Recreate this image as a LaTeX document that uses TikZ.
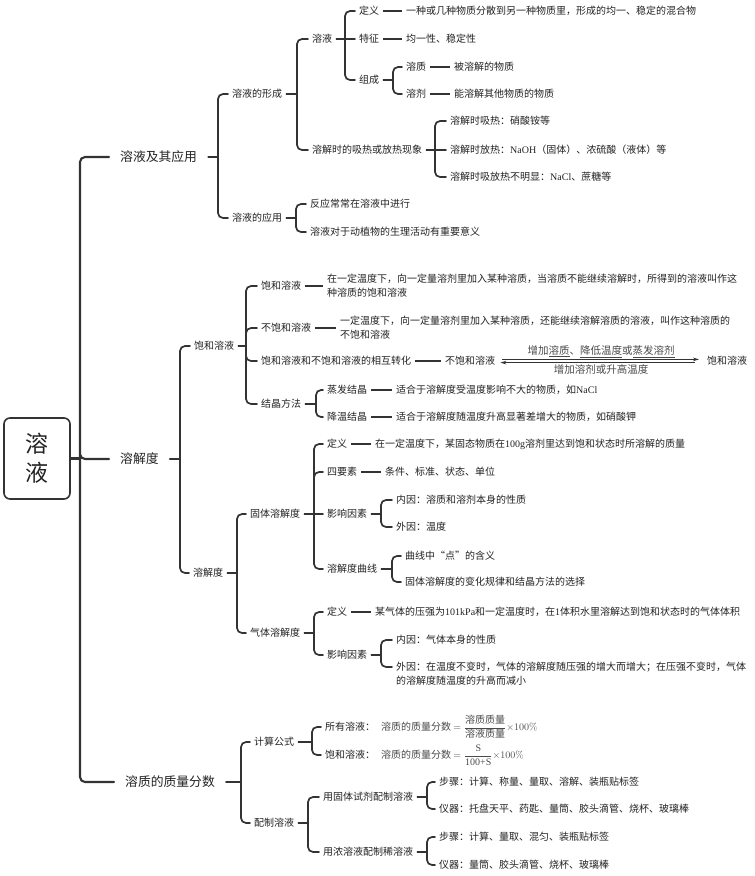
\documentclass[tikz,border=0pt]{standalone}
\usepackage{fontspec}
\usepackage{amsmath}
\usepackage{xcolor}
\usepackage{tikz}
\usetikzlibrary{arrows.meta}
\newfontfamily\cjk{Noto Sans CJK SC}
\newfontfamily\lat{Liberation Serif}
\definecolor{paper}{HTML}{FFFFFF}
\definecolor{ink}{HTML}{222222}
\definecolor{wire}{HTML}{333333}
\definecolor{soft}{HTML}{4A4A4A}
\tikzset{
  ln/.style={draw=wire, line width=1.7pt, rounded corners=5pt, line cap=round},
  trunk/.style={ln, line width=2.1pt},
  tie/.style={draw=wire, line width=1.5pt},
  arr/.style={draw=wire, line width=0.9pt, -{Stealth[length=6pt,width=3.6pt]}, shorten >=4pt, shorten <=3pt},
  arrb/.style={draw=wire, line width=0.9pt, {Stealth[length=6pt,width=3.6pt]}-, shorten >=8pt, shorten <=1pt},
  lab/.style={anchor=west, inner xsep=4pt, inner ysep=1pt, text=ink, font=\cjk\fontsize{10}{14}\selectfont},
  alab/.style={text=soft, inner sep=1.5pt, font=\cjk\fontsize{10.5}{12}\selectfont},
  top/.style={anchor=west, inner xsep=11pt, inner ysep=1pt, text=ink, font=\cjk\fontsize{12.8}{15}\selectfont},
  rootbox/.style={draw=wire, line width=1.6pt, rounded corners=6pt, minimum width=66pt, minimum height=81pt,
    align=center, text=ink, font=\cjk\fontsize{23}{29}\selectfont},
}

\begin{document}
\begin{tikzpicture}[x=1pt,y=-1pt]
  \useasboundingbox (0,0) rectangle (755,876);

  \node[rootbox] (root) at (37,458.5) {溶\\液};
  \node[top] (A) at (109,157) {溶液及其应用};
  \node[top] (B) at (109,459) {溶解度};
  \node[top] (C) at (114,782) {溶质的质量分数};
  \coordinate (j0) at (80,458.5);
  \draw[trunk] (root.east) -- (j0);
  \draw[trunk] (j0) |- (A.west) (j0) |- (B.west) (j0) |- (C.west);

  % 溶液及其应用
  \coordinate (jA) at (218,157);
  \node[lab] (A1) at (228,94) {溶液的形成};
  \node[lab] (A2) at (228,218) {溶液的应用};
  \draw[ln] (A.east) -- (jA);
  \draw[ln] (jA) |- (A1.west) (jA) |- (A2.west);

  \coordinate (jA1) at (297,94);
  \node[lab] (A11) at (308,39) {溶液};
  \node[lab] (A12) at (308,150) {溶解时的吸热或放热现象};
  \draw[ln] (A1.east) -- (jA1);
  \draw[ln] (jA1) |- (A11.west) (jA1) |- (A12.west);

  \coordinate (jA11) at (345,39);
  \node[lab] (A111) at (355,11) {定义};
  \node[lab] (A112) at (355,39) {特征};
  \node[lab] (A113) at (355,80) {组成};
  \draw[ln] (A11.east) -- (jA11);
  \draw[ln] (jA11) |- (A111.west) (jA11) -- (A112.west) (jA11) |- (A113.west);
  \node[lab] (d111) at (402,11) {一种或几种物质分散到另一种物质里，形成的均一、稳定的混合物};
  \node[lab] (d112) at (402,39) {均一性、稳定性};
  \draw[tie] (A111.east) -- (d111.west);
  \draw[tie] (A112.east) -- (d112.west);

  \coordinate (jA113) at (393,80);
  \node[lab] (A1131) at (402,67) {溶质};
  \node[lab] (A1132) at (402,94) {溶剂};
  \draw[ln] (A113.east) -- (jA113);
  \draw[ln] (jA113) |- (A1131.west) (jA113) |- (A1132.west);
  \node[lab] (d1131) at (450,67) {被溶解的物质};
  \node[lab] (d1132) at (450,94) {能溶解其他物质的物质};
  \draw[tie] (A1131.east) -- (d1131.west);
  \draw[tie] (A1132.east) -- (d1132.west);

  \coordinate (jA12) at (435,150);
  \node[lab] (A121) at (446,121) {溶解时吸热：硝酸铵等};
  \node[lab] (A122) at (446,150) {溶解时放热：{\lat NaOH}（固体）、浓硫酸（液体）等};
  \node[lab] (A123) at (446,177) {溶解时吸放热不明显：{\lat NaCl}、蔗糖等};
  \draw[ln] (A12.east) -- (jA12);
  \draw[ln] (jA12) |- (A121.west) (jA12) -- (A122.west) (jA12) |- (A123.west);

  \coordinate (jA2) at (296,218);
  \node[lab] (A21) at (306,204) {反应常常在溶液中进行};
  \node[lab] (A22) at (306,232) {溶液对于动植物的生理活动有重要意义};
  \draw[ln] (A2.east) -- (jA2);
  \draw[ln] (jA2) |- (A21.west) (jA2) |- (A22.west);

  % 溶解度
  \coordinate (jB) at (180,459);
  \node[lab] (B1) at (190,346) {饱和溶液};
  \node[lab] (B2) at (189,573) {溶解度};
  \draw[ln] (B.east) -- (jB);
  \draw[ln] (jB) |- (B1.west) (jB) |- (B2.west);

  \coordinate (jB1) at (246,346);
  \node[lab] (B11) at (257,286) {饱和溶液};
  \node[lab] (B12) at (257,328) {不饱和溶液};
  \node[lab] (B13) at (257,361) {饱和溶液和不饱和溶液的相互转化};
  \node[lab] (B14) at (257,404) {结晶方法};
  \draw[ln] (B1.east) -- (jB1);
  \draw[ln] (jB1) |- (B11.west) (jB1) |- (B12.west) (jB1) |- (B13.west) (jB1) |- (B14.west);
  \node[lab, align=left] (d11) at (323,286) {在一定温度下，向一定量溶剂里加入某种溶质，当溶质不能继续溶解时，所得到的溶液叫作这\\种溶质的饱和溶液};
  \node[lab, align=left] (d12) at (336,328) {一定温度下，向一定量溶剂里加入某种溶质，还能继续溶解溶质的溶液，叫作这种溶质的\\不饱和溶液};
  \draw[tie] (B11.east) -- (d11.west);
  \draw[tie] (B12.east) -- (d12.west);

  \node[lab] (U) at (441,361) {不饱和溶液};
  \node[lab] (S) at (703,361) {饱和溶液};
  \draw[tie] (B13.east) -- (U.west);
  \draw[arr] ([yshift=1.6pt]U.east) -- ([yshift=1.6pt]S.west)
    node[alab, midway, above] {增加\underline{溶质}、\underline{降低温度}或\underline{蒸发溶剂}};
  \draw[arrb] ([yshift=-1.6pt]U.east) -- ([yshift=-1.6pt]S.west)
    node[alab, midway, below] {增加溶剂或升高温度};

  \coordinate (jB14) at (316,404);
  \node[lab] (B141) at (323,390) {蒸发结晶};
  \node[lab] (B142) at (323,417) {降温结晶};
  \draw[ln] (B14.east) -- (jB14);
  \draw[ln] (jB14) |- (B141.west) (jB14) |- (B142.west);
  \node[lab] (d141) at (392,390) {适合于溶解度受温度影响不大的物质，如{\lat NaCl}};
  \node[lab] (d142) at (392,417) {适合于溶解度随温度升高显著差增大的物质，如硝酸钾};
  \draw[tie] (B141.east) -- (d141.west);
  \draw[tie] (B142.east) -- (d142.west);

  \coordinate (jB2) at (237,573);
  \node[lab] (B21) at (246,514) {固体溶解度};
  \node[lab] (B22) at (246,633) {气体溶解度};
  \draw[ln] (B2.east) -- (jB2);
  \draw[ln] (jB2) |- (B21.west) (jB2) |- (B22.west);

  \coordinate (jB21) at (314,514);
  \node[lab] (B211) at (323,444) {定义};
  \node[lab] (B212) at (323,472) {四要素};
  \node[lab] (B213) at (323,514) {影响因素};
  \node[lab] (B214) at (323,569) {溶解度曲线};
  \draw[ln] (B21.east) -- (jB21);
  \draw[ln] (jB21) |- (B211.west) (jB21) |- (B212.west) (jB21) -- (B213.west) (jB21) |- (B214.west);
  \node[lab] (d211) at (371,444) {在一定温度下，某固态物质在{\lat 100g}溶剂里达到饱和状态时所溶解的质量};
  \node[lab] (d212) at (381,472) {条件、标准、状态、单位};
  \draw[tie] (B211.east) -- (d211.west);
  \draw[tie] (B212.east) -- (d212.west);

  \coordinate (jB213) at (381,514);
  \node[lab] (B2131) at (392,500) {内因：溶质和溶剂本身的性质};
  \node[lab] (B2132) at (392,527) {外因：温度};
  \draw[ln] (B213.east) -- (jB213);
  \draw[ln] (jB213) |- (B2131.west) (jB213) |- (B2132.west);

  \coordinate (jB214) at (392,569);
  \node[lab] (B2141) at (401,556) {曲线中“点”的含义};
  \node[lab] (B2142) at (401,582) {固体溶解度的变化规律和结晶方法的选择};
  \draw[ln] (B214.east) -- (jB214);
  \draw[ln] (jB214) |- (B2141.west) (jB214) |- (B2142.west);

  \coordinate (jB22) at (314,633);
  \node[lab] (B221) at (323,612) {定义};
  \node[lab] (B222) at (323,655) {影响因素};
  \draw[ln] (B22.east) -- (jB22);
  \draw[ln] (jB22) |- (B221.west) (jB22) |- (B222.west);
  \node[lab] (d221) at (371,612) {某气体的压强为{\lat 101kPa}和一定温度时，在{\lat 1}体积水里溶解达到饱和状态时的气体体积};
  \draw[tie] (B221.east) -- (d221.west);

  \coordinate (jB222) at (381,655);
  \node[lab] (B2221) at (392,640) {内因：气体本身的性质};
  \node[lab, align=left] (B2222) at (392,674) {外因：在温度不变时，气体的溶解度随压强的增大而增大；在压强不变时，气体\\的溶解度随温度的升高而减小};
  \draw[ln] (B222.east) -- (jB222);
  \draw[ln] (jB222) |- (B2221.west) (jB222) |- ([yshift=7pt]B2222.west);

  % 溶质的质量分数
  \coordinate (jC) at (241,782);
  \node[lab] (C1) at (250,742) {计算公式};
  \node[lab] (C2) at (250,823) {配制溶液};
  \draw[ln] (C.east) -- (jC);
  \draw[ln] (jC) |- (C1.west) (jC) |- (C2.west);

  \coordinate (jC1) at (312,742);
  \node[lab] (C11) at (321,727) {所有溶液：\hspace{6pt}{\color{soft}溶质的质量分数\ $=\dfrac{\mbox{溶质质量}}{\mbox{溶液质量}}{\times}100\%$}};
  \node[lab] (C12) at (321,755) {饱和溶液：\hspace{6pt}{\color{soft}溶质的质量分数\ $=\dfrac{\mbox{\lat S}}{\mbox{\lat 100+S}}{\times}100\%$}};
  \draw[ln] (C1.east) -- (jC1);
  \draw[ln] (jC1) |- (C11.west) (jC1) |- (C12.west);

  \coordinate (jC2) at (308,823);
  \node[lab] (C21) at (319,797) {用固体试剂配制溶液};
  \node[lab] (C22) at (319,852) {用浓溶液配制稀溶液};
  \draw[ln] (C2.east) -- (jC2);
  \draw[ln] (jC2) |- (C21.west) (jC2) |- (C22.west);

  \coordinate (jC21) at (427,797);
  \node[lab] (C211) at (435,782) {步骤：计算、称量、量取、溶解、装瓶贴标签};
  \node[lab] (C212) at (435,809) {仪器：托盘天平、药匙、量筒、胶头滴管、烧杯、玻璃棒};
  \draw[ln] (C21.east) -- (jC21);
  \draw[ln] (jC21) |- (C211.west) (jC21) |- (C212.west);

  \coordinate (jC22) at (427,852);
  \node[lab] (C221) at (435,837) {步骤：计算、量取、混匀、装瓶贴标签};
  \node[lab] (C222) at (435,865) {仪器：量筒、胶头滴管、烧杯、玻璃棒};
  \draw[ln] (C22.east) -- (jC22);
  \draw[ln] (jC22) |- (C221.west) (jC22) |- (C222.west);
\end{tikzpicture}
\end{document}
